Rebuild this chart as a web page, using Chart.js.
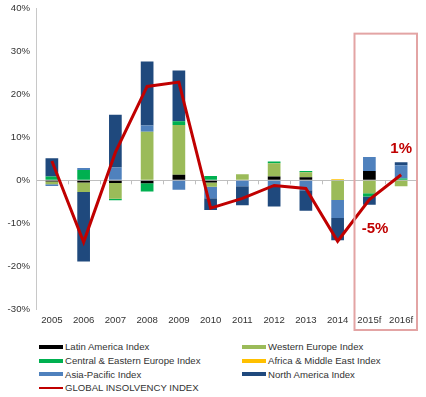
<!DOCTYPE html>
<html>
<head>
<meta charset="utf-8">
<script src="https://cdn.jsdelivr.net/npm/chart.js@4.4.1/dist/chart.umd.min.js"></script>
<style>
  html, body { margin: 0; padding: 0; background: #fff; }
  #wrap { position: relative; width: 426px; height: 397px; overflow: hidden; }
  #cv { position: absolute; left: 0; top: -3px; }
  #legend { position: absolute; left: 39px; top: 340px; display: grid;
    grid-template-columns: 203px 190px; grid-auto-rows: 13.7px;
    font-family: "Liberation Sans", Arial, sans-serif; font-size: 9.6px; color: #333; }
  .item { display: flex; align-items: center; white-space: nowrap; }
  .sw { width: 24px; margin-right: 2px; flex: none; }
</style>
</head>
<body>
<div id="wrap">
  <canvas id="cv" width="426" height="338"></canvas>
  <div id="legend"></div>
</div>
<script>
const categories = ['2005','2006','2007','2008','2009','2010','2011','2012','2013','2014','2015f','2016f'];
const latinAmerica   = [-0.3, -0.5, -0.6, -0.7,  1.3, -0.5,  0.0,  0.9,  0.7,  0.15,  2.2,  0.0];
const westernEurope  = [-0.6, -2.2, -3.7, 11.3, 11.6, -1.0,  1.4,  3.1,  1.2, -4.6,  -3.0, -1.4];
const centralEastern = [ 0.9,  2.4, -0.35,-1.9,  0.9,  1.0,  0.0,  0.4,  0.3,  0.0,  -0.75, 0.4];
const africaMidEast  = [ 0.0,  0.0,  0.0,  0.0,  0.0,  0.0,  0.0,  0.0,  0.0,  0.15,  0.0,  0.0];
const asiaPacific    = [-0.4,  0.5,  3.0,  1.5, -2.2, -2.7, -1.4, -1.4, -2.3, -4.2,   3.25, 3.1];
const northAmerica   = [ 4.25,-16.2, 12.3, 14.9, 11.8, -2.7, -4.4, -4.7, -4.8, -5.2,  -1.95, 0.7];
const globalIndex    = [ 4.5, -14.4,  6.5, 21.9, 22.9, -6.5, -4.2, -1.2, -1.9, -14.2, -4.5,  1.3];
const yTicks = [40, 30, 20, 10, 0, -10, -20, -30];
const seriesNames = ['Latin America Index','Western Europe Index','Central & Eastern Europe Index',
  'Africa & Middle East Index','Asia-Pacific Index','North America Index','GLOBAL INSOLVENCY INDEX'];
const seriesColors = ['#000000','#9bbb59','#00b050','#ffc000','#4f81bd','#1f497d','#c00000'];
const annotations = [ {text: '1%', x: 11, y: 7.3}, {text: '-5%', x: 10.18, y: -11.3} ];
const forecastStart = 9.5;   // forecast box starts between 2014 and 2015f
const forecastTop = 34.2;

const barSeries = [latinAmerica, westernEurope, centralEastern, africaMidEast, asiaPacific, northAmerica];
const datasets = barSeries.map((d, i) => ({
  type: 'bar', label: seriesNames[i], data: d, backgroundColor: seriesColors[i],
  borderWidth: 0, stack: 'regions', categoryPercentage: 1, barPercentage: 0.4
}));
datasets.push({
  type: 'line', label: seriesNames[6], data: globalIndex, borderColor: seriesColors[6],
  borderWidth: 3, pointRadius: 0, tension: 0, stack: 'global', order: -1, fill: false
});

const FONT = '"Liberation Sans", Arial, sans-serif';

const decor = {
  id: 'decor',
  beforeDatasetsDraw(chart) {
    const {ctx, scales: {x, y}} = chart;
    const y0 = y.getPixelForValue(0);
    ctx.save();
    ctx.strokeStyle = '#bfbfbf';
    ctx.lineWidth = 1;
    for (let i = 1; i < categories.length; i++) {
      const px = Math.round(x.getPixelForValue(i - 0.5)) + 0.5;
      ctx.beginPath(); ctx.moveTo(px, y0); ctx.lineTo(px, y0 + 4); ctx.stroke();
    }
    ctx.restore();
  },
  afterDatasetsDraw(chart) {
    const {ctx, chartArea, scales: {x, y}} = chart;
    ctx.save();
    const left = x.getPixelForValue(forecastStart) + 1;
    const right = chartArea.right;
    const top = y.getPixelForValue(forecastTop);
    const bottom = chartArea.bottom + 21;
    ctx.strokeStyle = '#e3a4a4';
    ctx.lineWidth = 2;
    ctx.strokeRect(left, top, right - left, bottom - top);
    ctx.fillStyle = '#c00000';
    ctx.font = 'bold 15px ' + FONT;
    ctx.textAlign = 'center';
    ctx.textBaseline = 'middle';
    annotations.forEach(a => ctx.fillText(a.text, x.getPixelForValue(a.x), y.getPixelForValue(a.y)));
    ctx.restore();
  }
};

new Chart(document.getElementById('cv'), {
  data: { labels: categories, datasets },
  options: {
    responsive: false, animation: false,
    layout: { padding: { top: 0, right: 9, left: 0, bottom: 0 } },
    plugins: { legend: { display: false }, tooltip: { enabled: false } },
    scales: {
      x: {
        stacked: true,
        grid: { display: false, drawTicks: false },
        border: { display: false },
        ticks: { color: '#333', font: { family: FONT, size: 9.6 }, padding: 6, maxRotation: 0, autoSkip: false },
        afterFit(s) { s.height = 26; }
      },
      y: {
        stacked: true, min: -30, max: 40,
        afterBuildTicks(s) { s.ticks = yTicks.map(v => ({value: v})); },
        grid: { drawTicks: false, color: c => (c.tick && c.tick.value === 0) ? '#bfbfbf' : 'rgba(0,0,0,0)', lineWidth: 1 },
        border: { display: true, color: '#c8c8c8' },
        ticks: { color: '#333', font: { family: FONT, size: 9.6 }, padding: 6, callback: v => v + '%' },
        afterFit(s) { s.width = 36; }
      }
    }
  },
  plugins: [decor]
});

const legend = document.getElementById('legend');
seriesNames.forEach((n, i) => {
  const it = document.createElement('div'); it.className = 'item';
  const sw = document.createElement('span'); sw.className = 'sw';
  sw.style.height = (i === 6 ? 2 : 4) + 'px';
  sw.style.background = seriesColors[i];
  const t = document.createElement('span'); t.textContent = n;
  it.appendChild(sw); it.appendChild(t); legend.appendChild(it);
});
</script>
</body>
</html>
